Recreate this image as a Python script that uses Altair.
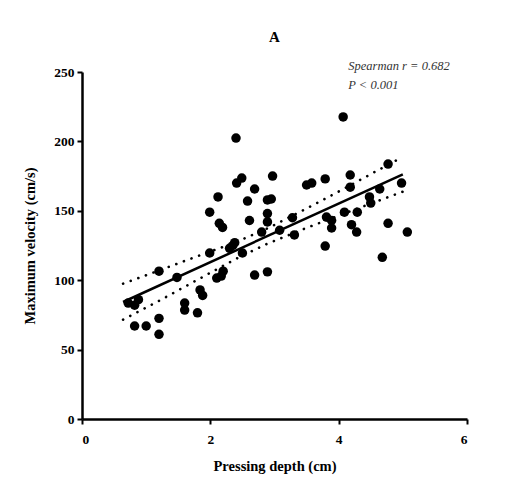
import altair as alt
import pandas as pd

# Scatter points (Pressing depth cm, Max velocity cm/s)
depth = [0.72, 0.82, 0.88, 0.82, 1.00, 1.20, 1.20, 1.20, 1.48, 1.60,
         1.60, 1.80, 1.84, 1.88, 1.99, 1.99, 2.12, 2.14, 2.19, 2.10,
         2.17, 2.20, 2.30, 2.35, 2.38, 2.50, 2.40, 2.49, 2.41, 2.69,
         2.58, 2.61, 2.69, 2.89, 2.80, 2.89, 2.89, 2.95, 2.89, 2.97,
         3.08, 3.28, 3.31, 3.50, 3.58, 3.79, 3.79, 3.81, 3.89, 3.89,
         4.07, 4.09, 4.29, 4.18, 4.18, 4.20, 4.28, 4.48, 4.50, 4.64,
         4.77, 4.98, 4.77, 5.07, 4.68]
velocity = [83.5, 82.0, 86.0, 67.0, 67.0, 72.5, 61.0, 106.5, 102.0, 83.5,
            78.5, 76.5, 93.0, 89.0, 119.6, 149.0, 160.0, 141.0, 138.0, 101.5,
            103.0, 106.5, 123.0, 125.0, 127.0, 119.6, 202.4, 173.6, 170.0, 165.7,
            157.0, 143.0, 103.7, 106.0, 134.7, 148.0, 142.0, 158.5, 157.8, 175.0,
            136.0, 145.0, 132.6, 168.6, 170.0, 173.0, 124.6, 145.5, 143.0, 137.6,
            217.6, 149.0, 149.0, 175.8, 167.0, 140.0, 134.7, 160.0, 155.6, 165.7,
            183.7, 170.0, 141.0, 134.7, 116.5]

# Fitted line (end points)
fit_x = [0.64, 5.0]
fit_y = [84.3, 176.3]

# 95% confidence band
band_x = [0.64, 1.2, 1.8, 2.4, 2.9, 3.5, 4.1, 4.6, 5.0]
band_upper = [97.5, 107.0, 117.3, 127.4, 137.5, 151.7, 166.3, 178.9, 188.8]
band_lower = [71.5, 85.1, 100.3, 115.4, 126.5, 137.7, 148.3, 156.9, 163.8]

# Annotation
ann_x = [4.15, 4.15]
ann_y = [254.5, 240.5]
ann_text = ["Spearman r = 0.682", "P < 0.001"]

pts = pd.DataFrame({"x": depth, "y": velocity})
fit = pd.DataFrame({"x": fit_x, "y": fit_y})
band = pd.DataFrame({"x": band_x * 2,
                     "y": band_upper + band_lower,
                     "side": ["upper"] * len(band_x) + ["lower"] * len(band_x)})
ann = pd.DataFrame({"x": ann_x, "y": ann_y, "t": ann_text})

FONT = "Liberation Serif"

xs = alt.Scale(domain=[0, 6], nice=False, zero=False)
ys = alt.Scale(domain=[0, 250], nice=False)

axis_style = dict(
    grid=False, domainColor="black", domainWidth=2.5, tickColor="black",
    tickWidth=2, tickSize=5, labelFont=FONT, labelFontWeight="bold",
    labelFontSize=13.5, labelColor="black", titleFont=FONT,
    titleFontWeight="bold", titleFontSize=14.5, titleColor="black",
    format="d",
)

xaxis = alt.Axis(values=[0, 2, 4, 6], title="Pressing depth (cm)",
                 labelPadding=8, titlePadding=14, **axis_style)
yaxis = alt.Axis(values=[0, 50, 100, 150, 200, 250], title="Maximum velocity (cm/s)",
                 labelPadding=3, titlePadding=16, **axis_style)

points = alt.Chart(pts).mark_circle(size=90, color="black", opacity=1).encode(
    x=alt.X("x:Q", scale=xs, axis=xaxis),
    y=alt.Y("y:Q", scale=ys, axis=yaxis),
)

fitline = alt.Chart(fit).mark_line(color="black", strokeWidth=2.5).encode(
    x=alt.X("x:Q", scale=xs),
    y=alt.Y("y:Q", scale=ys),
)

bands = alt.Chart(band).mark_line(color="black", strokeWidth=2.6,
                                   strokeDash=[0.1, 8], strokeCap="round").encode(
    x=alt.X("x:Q", scale=xs),
    y=alt.Y("y:Q", scale=ys),
    detail="side:N",
)

text = alt.Chart(ann).mark_text(align="left", baseline="middle", font=FONT,
                                fontStyle="italic", fontSize=12.5, color="#333",
                                clip=False).encode(
    x=alt.X("x:Q", scale=xs),
    y=alt.Y("y:Q", scale=ys),
    text="t:N",
)

chart = alt.layer(bands, fitline, points, text).properties(
    width=385,
    height=347,
    background="white",
    title=alt.TitleParams(text="A", frame="group", offset=15, fontSize=15,
                          font=FONT, fontWeight="bold", anchor="middle",
                          color="black"),
    autosize=alt.AutoSizeParams(type="none"),
    padding={"left": 82, "top": 72, "right": 53, "bottom": 71},
).configure_view(stroke=None)

chart.save("out.html", embed_options={"renderer": "svg", "actions": False})
